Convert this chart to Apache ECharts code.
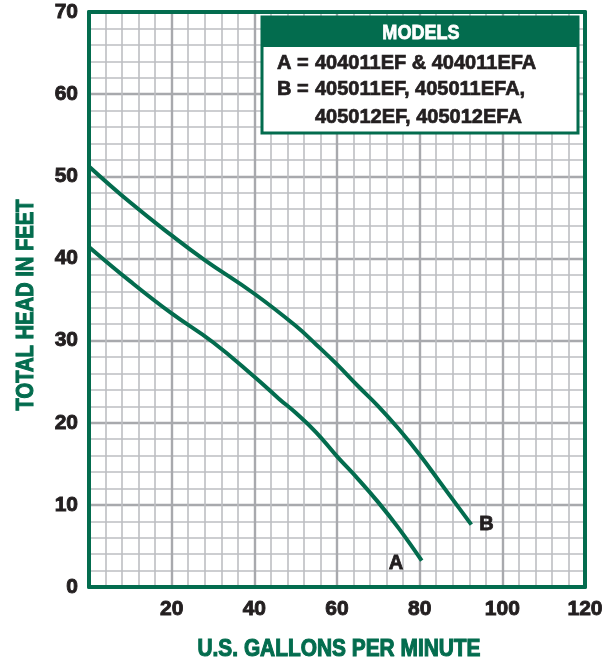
<!DOCTYPE html>
<html>
<head>
<meta charset="utf-8">
<script src="https://cdn.jsdelivr.net/npm/echarts@6/dist/echarts.min.js"></script>
<style>
html,body{margin:0;padding:0;background:#fff;}
#c{width:614px;height:663px;}
</style>
</head>
<body>
<div id="c"></div>
<script>
// Data
const seriesAName = 'A';
const seriesBName = 'B';
const curveA = [[0,41.4],[10,37.2],[20,33.3],[30,29.8],[40,25.6],[46,22.9],[50,21.2],[55,18.8],[60,15.9],[65,13.2],[70,10.3],[75,7.1],[80.5,3.2]];
const curveB = [[0,51.2],[10,46.8],[20,42.8],[28,39.8],[40,35.7],[50,31.8],[55,29.5],[60,27.1],[65,24.5],[70,22.0],[75,19.2],[80,16.1],[85,12.7],[92.5,7.6]];
const xTicks = [0,20,40,60,80,100,120];
const yTicks = [0,10,20,30,40,50,60,70];
const xTitle = 'U.S. GALLONS PER MINUTE';
const yTitle = 'TOTAL HEAD IN FEET';
const legendTitle = 'MODELS';
const legendLines = [
  ['A =', '404011EF & 404011EFA'],
  ['B =', '405011EF, 405011EFA,'],
  ['', '405012EF, 405012EFA']
];

const GREEN = '#036c4e';
const TXT = '#231f20';
const SANS = "'Liberation Sans',Arial,sans-serif";

const chart = echarts.init(document.getElementById('c'), null, {renderer:'canvas'});

const minorLine = {show:true, lineStyle:{color:'#bdbec2', width:1.6}};
const majorLine = {show:true, lineStyle:{color:'#a8a9ad', width:2.4}};
const ZL = 100;
const tickLabel = {color:TXT, fontWeight:'bold', fontSize:21, fontFamily:SANS, textBorderColor:TXT, textBorderWidth:0.9};
const endLbl = {color:TXT, fontWeight:'bold', fontSize:20, fontFamily:SANS, textBorderColor:TXT, textBorderWidth:0.8};

chart.setOption({
  backgroundColor:'#ffffff',
  animation:false,
  grid:{left:89, right:29, top:12, bottom:76, containLabel:false},
  xAxis:[{
    type:'value', min:xTicks[0], max:xTicks[xTicks.length-1], interval:20,
    axisLine:{show:true, onZero:false, lineStyle:{color:GREEN, width:4}},
    axisTick:{show:false},
    axisLabel:Object.assign({margin:12, formatter:v=> v===0 ? '' : String(v)}, tickLabel),
    splitLine:majorLine,
    minorTick:{show:false, splitNumber:5},
    minorSplitLine:minorLine
  },{
    type:'value', position:'top', min:0, max:120, interval:20,
    axisLine:{show:true, onZero:false, lineStyle:{color:GREEN, width:4}},
    axisTick:{show:false}, axisLabel:{show:false}, splitLine:{show:false}
  }],
  yAxis:[{
    type:'value', min:yTicks[0], max:yTicks[yTicks.length-1], interval:10,
    axisLine:{show:true, onZero:false, lineStyle:{color:GREEN, width:4}},
    axisTick:{show:false},
    axisLabel:Object.assign({margin:11}, tickLabel),
    splitLine:majorLine,
    minorTick:{show:false, splitNumber:5},
    minorSplitLine:minorLine
  },{
    type:'value', position:'right', min:0, max:70, interval:10,
    axisLine:{show:true, onZero:false, lineStyle:{color:GREEN, width:4}},
    axisTick:{show:false}, axisLabel:{show:false}, splitLine:{show:false}
  }],
  series:[{
    name:seriesAName, type:'line', smooth:0.45, showSymbol:false, symbol:'none', z:5,
    lineStyle:{color:GREEN, width:4},
    endLabel:Object.assign({show:true, formatter:seriesAName, offset:[-41, 3]}, endLbl),
    data:curveA
  },{
    name:seriesBName, type:'line', smooth:0.45, showSymbol:false, symbol:'none', z:5,
    lineStyle:{color:GREEN, width:4},
    endLabel:Object.assign({show:true, formatter:seriesBName, offset:[0, 0]}, endLbl),
    data:curveB
  }],
  graphic:[
    {type:'text', z:ZL, x:339, y:649, scaleX:0.87,
      style:{text:xTitle, x:0, y:0, align:'center', verticalAlign:'middle', fill:GREEN, stroke:GREEN, lineWidth:1.1, font:"bold 24px "+SANS}},
    {type:'text', z:ZL, x:26, y:305, rotation:Math.PI/2, scaleX:0.84,
      style:{text:yTitle, x:0, y:0, align:'center', verticalAlign:'middle', fill:GREEN, stroke:GREEN, lineWidth:1.1, font:"bold 24px "+SANS}},
    {type:'rect', z:ZL, shape:{x:262,y:17,width:316,height:116}, style:{fill:'#ffffff', stroke:GREEN, lineWidth:3}},
    {type:'rect', z:ZL+1, shape:{x:262,y:17,width:316,height:30}, style:{fill:GREEN}},
    {type:'text', z:ZL+2, x:421, y:33, scaleX:0.86,
      style:{text:legendTitle, x:0, y:0, align:'center', verticalAlign:'middle', fill:'#ffffff', stroke:'#ffffff', lineWidth:0.8, font:"bold 21px "+SANS}},
    {type:'text', z:ZL+2, style:{text:legendLines[0][0], x:277, y:63, verticalAlign:'middle', fill:TXT, stroke:TXT, lineWidth:0.7, font:"bold 20px "+SANS}},
    {type:'text', z:ZL+2, style:{text:legendLines[0][1], x:315, y:63, verticalAlign:'middle', fill:TXT, stroke:TXT, lineWidth:0.7, font:"bold 20px "+SANS}},
    {type:'text', z:ZL+2, style:{text:legendLines[1][0], x:277, y:89, verticalAlign:'middle', fill:TXT, stroke:TXT, lineWidth:0.7, font:"bold 20px "+SANS}},
    {type:'text', z:ZL+2, style:{text:legendLines[1][1], x:315, y:89, verticalAlign:'middle', fill:TXT, stroke:TXT, lineWidth:0.7, font:"bold 20px "+SANS}},
    {type:'text', z:ZL+2, style:{text:legendLines[2][1], x:315, y:117, verticalAlign:'middle', fill:TXT, stroke:TXT, lineWidth:0.7, font:"bold 20px "+SANS}}
  ]
});
</script>
</body>
</html>
